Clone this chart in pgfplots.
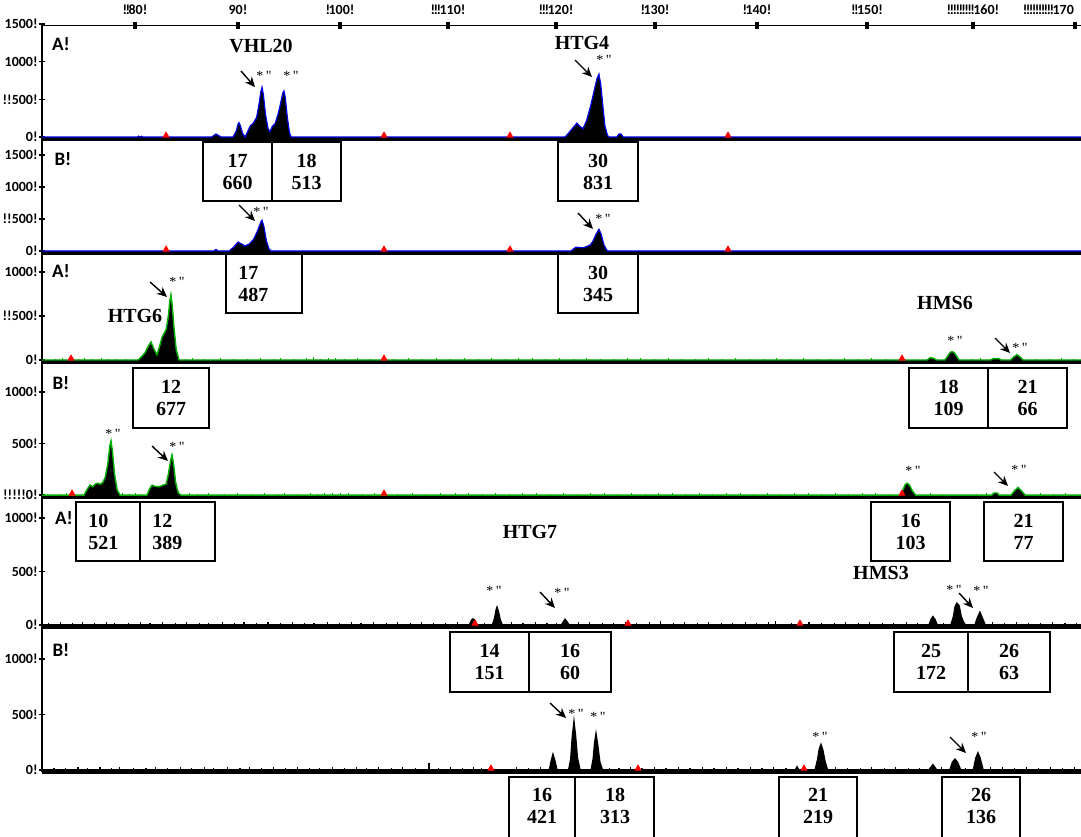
\documentclass[border=0pt]{standalone}
\usepackage{fontspec}
\setmainfont{Liberation Serif}
\newfontfamily\carl{Carlito}
\usepackage{pgfplots}
\pgfplotsset{compat=1.18}
\usetikzlibrary{arrows.meta}
\definecolor{trgreen}{RGB}{0,175,0}
\definecolor{trblue}{RGB}{0,0,235}
\newcommand\tickfont{\carl\bfseries\fontsize{7}{8}\selectfont}
\newcommand\panelfont{\carl\bfseries\fontsize{9.5}{11}\selectfont}
\newcommand\locfont{\bfseries\fontsize{10}{11}\selectfont}
\newcommand\boxfont{\bfseries\fontsize{10}{11}\selectfont}
\newcommand\starfont{\fontsize{7}{8}\selectfont}
\newcommand\bg{!\kern-0.8pt}
\pgfplotsset{
  panel/.style={scale only axis, width=519.5pt, xmin=71.15, xmax=170.64,
    separate axis lines, axis x line=bottom, axis y line=left,
    axis line style={-},
    x axis line style={-, line width=1.6pt, black},
    y axis line style={-, line width=0.7pt, black},
    xtick=\empty, tick align=center, major tick length=3pt,
    ytick style={line width=0.6pt, black},
    yticklabel style={font=\tickfont, inner sep=0.5pt},
    anchor=south west},
  redmk/.style={only marks, mark=triangle*, mark size=1.7pt, red},
}
\newcommand\bx[5]{\draw[line width=0.6pt, fill=white] (#1,#2) rectangle (#3,#4);
  \node[font=\boxfont, align=center] at ({(#1+#3)/2},{(#2+#4)/2}) {#5};}
\newcommand\bxl[6]{\draw[line width=0.6pt, fill=white] (#1,#2) rectangle (#3,#4);
  \node[font=\boxfont, align=left, anchor=west, inner sep=0pt] at (#5,{(#2+#4)/2}) {#6};}
\begin{document}
\begin{tikzpicture}
\path[use as bounding box] (0,0) rectangle (540.5pt,-418pt);

% ruler
\begin{axis}[scale only axis, width=519.5pt, height=5pt, xmin=71.15, xmax=170.64,
  ymin=0, ymax=1, axis x line=top, axis y line=none, axis line style={-, line width=0.5pt},
  xtick={80.06,89.92,99.69,110.03,120.37,129.85,139.61,150.15,160.29},
  xticklabels={{\bg\bg 80!},{90!},{\bg 100!},{\bg\bg\bg 110!},{\bg\bg\bg 120!},{\bg 130!},{\bg 140!},{\bg\bg 150!},{\bg\bg\bg\bg\bg\bg\bg\bg\bg 160!}},
  extra x ticks={170.06}, extra x tick labels={{\bg\bg\bg\bg\bg\bg\bg\bg\bg\bg 170}},
  extra x tick style={xticklabel style={anchor=south east, xshift=3pt}},
  tick align=center, major tick length=3.5pt, xtick style={line width=2pt, black},
  xticklabel style={font=\tickfont},
  at={(21pt,-12.5pt)}, anchor=north west]
\addplot[draw=none] coordinates {(100,0.5)};
\end{axis}

% Panel 1
\begin{axis}[panel, at={(21pt,-69.45pt)}, height=57.45pt, ymin=-25, ymax=1500,
  ytick={0,500,1000,1500}, yticklabels={0!,!!500!,1000!,1500!}]
\addplot[fill=black, draw=trblue, line width=0.6pt] coordinates {
(71.15,0)(80.3,0)(80.4,12)(80.5,0)(80.7,10)(80.8,0)(87.4,0)(87.65,25)(87.81,40)(88.0,25)(88.3,0)
(89.45,0)(89.75,80)(89.92,170)(90.02,190)(90.15,150)(90.35,50)(90.6,0)(90.8,60)(91.1,150)(91.36,180)
(91.7,260)(91.95,450)(92.1,600)(92.22,660)(92.35,560)(92.55,300)(92.8,110)(92.98,70)(93.2,140)(93.46,175)
(93.75,300)(94.0,450)(94.2,580)(94.32,610)(94.45,520)(94.65,250)(94.85,60)(95.0,0)
(121.23,0)(121.5,40)(121.8,90)(122.1,140)(122.37,185)(122.6,150)(122.95,110)(123.3,220)(123.7,420)
(124.0,600)(124.3,780)(124.48,835)(124.65,700)(124.85,420)(125.05,150)(125.3,20)(125.45,0)
(126.2,0)(126.4,40)(126.6,40)(126.8,0)(170.64,0)};
\addplot[redmk] coordinates {(83.03,20)(103.90,20)(115.96,20)(136.84,20)};
\end{axis}

% Panel 2
\begin{axis}[panel, at={(21pt,-126.45pt)}, height=57pt, ymin=-30, ymax=1752,
  ytick={0,500,1000,1500}, yticklabels={0!,!!500!,1000!,1500!}]
\addplot[fill=black, draw=trblue, line width=0.6pt] coordinates {
(71.15,0)(87.6,0)(87.81,25)(88.0,0)(89.06,0)(89.5,60)(89.92,140)(90.15,120)(90.59,80)(91.0,110)
(91.4,180)(91.8,320)(92.1,450)(92.22,480)(92.4,380)(92.65,150)(92.9,30)(93.08,0)
(121.8,0)(122.1,40)(122.28,60)(122.6,55)(122.95,50)(123.3,70)(123.62,90)(123.9,150)(124.2,260)
(124.48,340)(124.7,260)(124.95,100)(125.2,20)(125.34,0)(170.64,0)};
\addplot[redmk] coordinates {(83.03,24)(103.90,24)(115.96,24)(136.84,24)};
\end{axis}

% Panel 3
\begin{axis}[panel, at={(21pt,-180.95pt)}, height=54.5pt, ymin=-22, ymax=1217,
  ytick={0,500,1000}, yticklabels={0!,!!500!,1000!}]
\addplot[ycomb, trgreen, line width=0.5pt] coordinates {
(72.4,15)(73.1,20)(74.6,12)(75.2,18)(75.9,14)(76.8,20)(77.5,12)(78.3,16)(79.1,14)(84.9,12)(85.6,18)
(86.7,14)(88.2,20)(89.5,12)(90.8,16)(92.1,22)(93.4,14)(94.0,18)(95.2,12)(96.5,20)(97.1,30)(97.8,16)
(98.6,20)(99.3,25)(100.1,14)(101.4,18)(102.6,12)(104.8,16)(106.2,20)(107.5,14)(108.9,18)(110.3,12)
(111.6,20)(112.9,16)(114.2,22)(115.5,14)(116.8,18)(118.1,25)(119.4,14)(120.7,18)(122.0,12)(123.3,20)
(124.6,16)(125.9,12)(127.2,18)(128.5,22)(129.8,14)(131.1,18)(132.4,12)(133.7,16)(135.0,20)(136.3,14)
(137.6,18)(138.9,12)(140.2,16)(141.5,20)(142.8,14)(144.1,18)(145.4,12)(146.7,16)(148.0,20)(149.3,14)
(150.6,18)(151.9,12)(160.2,14)(161.0,18)(166.4,16)(167.6,12)(168.8,20)(169.9,14)};
\addplot[fill=black, draw=trgreen, line width=0.7pt] coordinates {
(71.15,0)(80.34,0)(80.7,40)(81.0,80)(81.3,150)(81.59,205)(81.85,130)(82.16,60)(82.4,150)(82.65,260)
(82.83,300)(83.05,350)(83.25,500)(83.4,680)(83.5,740)(83.62,620)(83.8,350)(84.0,120)(84.27,0)
(155.9,0)(156.18,25)(156.5,20)(156.8,0)(157.6,0)(157.85,40)(158.1,85)(158.29,95)(158.5,85)(158.75,40)
(158.96,0)(162.0,0)(162.2,15)(162.8,15)(163.0,0)(163.9,0)(164.2,35)(164.51,60)(164.8,35)(165.1,0)(170.64,0)};
\addplot[redmk] coordinates {(73.93,17)(103.90,17)(153.50,17)};
\end{axis}

% Panel 4
\begin{axis}[panel, at={(21pt,-248.45pt)}, height=67.5pt, ymin=-18, ymax=1292,
  ytick={0,500,1000}, yticklabels={!!!!!0!,500!,1000!}]
\addplot[ycomb, trgreen, line width=0.5pt] coordinates {
(72.8,14)(73.5,18)(75.0,12)(78.9,16)(79.5,14)(80.1,18)(80.6,12)(85.3,16)(86.0,14)(87.1,18)(88.6,12)
(89.9,20)(91.2,14)(92.5,16)(93.8,12)(94.4,20)(95.6,14)(96.9,18)(97.5,12)(98.2,22)(99.0,16)(99.7,20)
(100.5,18)(101.8,14)(103.0,16)(105.2,12)(106.6,20)(107.9,14)(109.3,18)(110.7,16)(112.0,22)(113.3,14)
(114.6,18)(115.9,12)(117.2,16)(118.5,20)(119.8,14)(121.1,18)(122.4,12)(123.7,16)(125.0,20)(126.3,14)
(127.6,18)(128.9,12)(130.2,16)(131.5,20)(132.8,14)(134.1,18)(135.4,12)(136.7,16)(138.0,20)(139.3,14)
(140.6,18)(141.9,12)(143.2,16)(144.5,20)(145.8,14)(147.1,18)(148.4,12)(149.7,16)(151.0,20)(152.3,14)
(156.2,16)(157.4,12)(160.6,14)(161.6,18)(166.8,16)(168.0,12)(169.2,20)};
\addplot[fill=black, draw=trgreen, line width=0.7pt] coordinates {
(71.15,0)(75.17,0)(75.5,60)(75.75,97)(76.0,80)(76.3,110)(76.51,115)(76.75,105)(76.99,125)(77.2,170)
(77.45,300)(77.65,480)(77.76,525)(77.9,420)(78.1,200)(78.35,50)(78.62,0)
(81.21,0)(81.45,60)(81.69,97)(81.95,85)(82.35,80)(82.7,95)(83.03,105)(83.25,200)(83.45,330)(83.6,390)
(83.75,300)(83.95,120)(84.2,20)(84.46,0)
(153.3,0)(153.55,40)(153.8,100)(153.98,115)(154.2,100)(154.5,40)(154.8,0)
(162.1,0)(162.3,20)(162.6,20)(162.8,0)(163.95,0)(164.3,45)(164.61,75)(164.9,45)(165.3,0)(170.64,0)};
\addplot[redmk] coordinates {(74.03,15)(103.90,15)(153.50,15)};
\end{axis}

% Panel 5
\begin{axis}[panel, at={(21pt,-313.45pt)}, height=65pt, ymin=-18, ymax=1197,
  ytick={0,500,1000}, yticklabels={0!,500!,1000!}]
\addplot[ycomb, black, line width=0.6pt] coordinates {
(71.8,20)(72.9,28)(74.1,15)(75.0,25)(76.2,18)(77.3,30)(78.1,22)(79.4,15)(80.6,28)(81.5,20)(82.7,25)
(83.9,18)(85.0,30)(86.2,15)(87.1,22)(88.4,28)(89.6,18)(90.5,25)(91.7,20)(92.8,30)(94.0,15)(95.1,25)
(96.3,22)(97.2,18)(98.5,28)(99.6,20)(100.8,25)(101.7,15)(102.9,30)(104.1,18)(105.2,25)(106.4,20)
(107.5,28)(108.6,15)(109.8,22)(110.9,25)(113.5,20)(116.1,28)(117.2,18)(118.4,25)(119.5,20)(120.4,15)
(122.5,25)(123.6,30)(124.8,18)(125.9,22)(127.0,28)(128.1,15)(129.3,25)(130.4,40)(131.6,20)(132.7,28)
(133.9,18)(135.0,25)(136.2,15)(137.3,22)(138.5,30)(139.6,18)(140.7,25)(141.4,35)(142.9,20)(144.6,28)
(145.8,15)(147.0,22)(148.1,25)(149.3,18)(150.4,28)(151.6,20)(152.7,15)(153.9,25)(155.0,22)(157.5,18)
(162.2,25)(163.3,20)(164.5,28)(165.6,15)(166.8,22)(167.9,25)(169.1,18)(170.2,22)};
\addplot[fill=black, draw=black, line width=0.9pt] coordinates {
(71.15,0)(112.1,0)(112.3,45)(112.42,55)(112.6,40)(112.8,0)(114.3,0)(114.5,60)(114.65,140)(114.72,160)
(114.85,120)(115.0,50)(115.2,0)(120.9,0)(121.1,30)(121.23,50)(121.4,30)(121.6,0)
(156.1,0)(156.3,50)(156.46,75)(156.65,50)(156.85,0)(158.2,0)(158.45,80)(158.6,170)(158.76,200)
(158.95,180)(159.15,80)(159.35,30)(159.55,0)(160.5,0)(160.75,70)(160.96,115)(161.15,70)(161.45,0)(170.64,0)};
\addplot[redmk] coordinates {(112.61,14)(127.26,14)(143.73,14)};
\end{axis}

% Panel 6
\begin{axis}[panel, at={(21pt,-385.95pt)}, height=72.5pt, ymin=-17, ymax=1289,
  ytick={0,500,1000}, yticklabels={0!,500!,1000!}]
\addplot[ycomb, black, line width=0.6pt] coordinates {
(72.3,22)(73.4,18)(74.6,28)(75.5,15)(76.7,25)(77.8,20)(78.6,30)(79.9,18)(81.1,22)(82.0,28)(83.2,15)
(84.4,25)(85.5,20)(86.7,30)(87.6,18)(88.9,25)(90.1,22)(91.0,28)(92.2,15)(93.3,25)(94.5,20)(95.6,30)
(96.8,18)(97.7,22)(99.0,28)(100.1,15)(101.3,25)(102.2,20)(103.4,28)(104.6,18)(105.7,25)(106.9,22)
(108.2,60)(109.1,18)(110.3,25)(111.4,20)(112.5,28)(113.2,15)(116.6,25)(117.7,20)(118.9,28)(125.5,22)
(126.4,18)(127.5,28)(128.6,20)(129.8,25)(130.9,15)(132.1,30)(133.2,18)(134.4,25)(135.5,22)(136.7,28)
(137.8,18)(139.0,25)(140.1,20)(141.2,28)(142.4,15)(147.1,25)(148.3,22)(149.5,18)(150.6,28)(151.8,20)
(152.9,25)(154.1,18)(155.2,22)(157.3,25)(159.6,18)(162.0,25)(163.1,30)(164.3,18)(165.4,25)(166.6,20)
(167.7,28)(168.9,15)(170.0,25)};
\addplot[fill=black, draw=black, line width=0.9pt] coordinates {
(71.15,0)(119.75,0)(119.95,90)(120.08,135)(120.25,80)(120.45,0)(121.6,0)(121.8,100)(121.95,300)
(122.09,420)(122.22,310)(122.4,110)(122.65,0)(123.75,0)(123.95,100)(124.08,240)(124.2,315)(124.35,220)
(124.55,70)(124.8,0)(143.3,0)(143.45,25)(143.6,0)(145.2,0)(145.45,100)(145.6,190)(145.74,225)(145.9,180)
(146.1,80)(146.35,0)(156.1,0)(156.46,45)(156.8,0)(158.1,0)(158.35,70)(158.57,95)(158.8,70)(159.1,0)
(160.35,0)(160.6,110)(160.77,150)(160.95,110)(161.25,0)(170.64,0)};
\addplot[redmk] coordinates {(114.14,14)(128.22,14)(144.11,14)};
\end{axis}

\begin{scope}[x=0.5pt,y=-0.5pt]
% panel letters
\node[font=\panelfont] at (61,44) {A!};
\node[font=\panelfont] at (63,159) {B!};
\node[font=\panelfont] at (61,271) {A!};
\node[font=\panelfont] at (61,383) {B!};
\node[font=\panelfont] at (64,518) {A!};
\node[font=\panelfont] at (61,650) {B!};
% locus names
\node[font=\locfont] at (261,46) {VHL20};
\node[font=\locfont] at (582,43) {HTG4};
\node[font=\locfont] at (135,316) {HTG6};
\node[font=\locfont] at (945,303) {HMS6};
\node[font=\locfont] at (530,532) {HTG7};
\node[font=\locfont] at (881,573) {HMS3};
% stars
\foreach \x/\y in {264/76, 291/76, 604/60, 261/212, 603/219, 177/282, 955/341, 1020/348,
  113/434, 177/447, 913/471, 1019/470, 494/591, 562/593, 954/590, 981/591,
  576/714, 598/717, 820/737, 979/737}
  \node[font=\starfont, inner sep=0pt] at (\x,\y) {*\,\textquotedbl};
% arrows
\foreach \a/\b/\c/\d in {241/71/255/87, 575/60/592/77, 239/205/255/221, 578/213/593/229,
  150/282/167/297, 995/338/1010/353, 152/446/168/461, 994/472/1008/486,
  540/592/555/608, 959/593/973/608, 550/703/566/718, 950/737/966/753}
  \draw[line width=0.7pt, -{Stealth[length=5pt,width=4.5pt]}] (\a,\b) -- (\c,\d);
% boxes
\bx{203}{142}{272}{201}{17\\660}
\bx{272}{142}{341}{201}{18\\513}
\bx{558}{142}{638}{201}{30\\831}
\bxl{226}{254}{302}{313}{238}{17\\487}
\bx{558}{254}{638}{313}{30\\345}
\bx{133}{368}{209}{428}{12\\677}
\bx{909}{368}{988}{428}{18\\109}
\bx{988}{368}{1067}{428}{21\\66}
\bxl{76}{502}{140}{561}{88}{10\\521}
\bxl{140}{502}{215}{561}{152}{12\\389}
\bx{871}{502}{950}{561}{16\\103}
\bx{984}{502}{1063}{561}{21\\77}
\bx{450}{632}{529}{692}{14\\151}
\bx{529}{632}{611}{692}{16\\60}
\bx{894}{632}{968}{692}{25\\172}
\bx{968}{632}{1050}{692}{26\\63}
% bottom boxes (cut by the page edge)
\draw[line width=0.6pt] (509,845) |- (654,777) -- (654,845);
\draw[line width=0.6pt] (575,777) -- (575,845);
\draw[line width=0.6pt] (779,845) |- (857,777) -- (857,845);
\draw[line width=0.6pt] (942,845) |- (1020,777) -- (1020,845);
\node[font=\boxfont, align=center] at (542,806) {16\\421};
\node[font=\boxfont, align=center] at (615,806) {18\\313};
\node[font=\boxfont, align=center] at (818,806) {21\\219};
\node[font=\boxfont, align=center] at (981,806) {26\\136};
\end{scope}
\end{tikzpicture}
\end{document}
